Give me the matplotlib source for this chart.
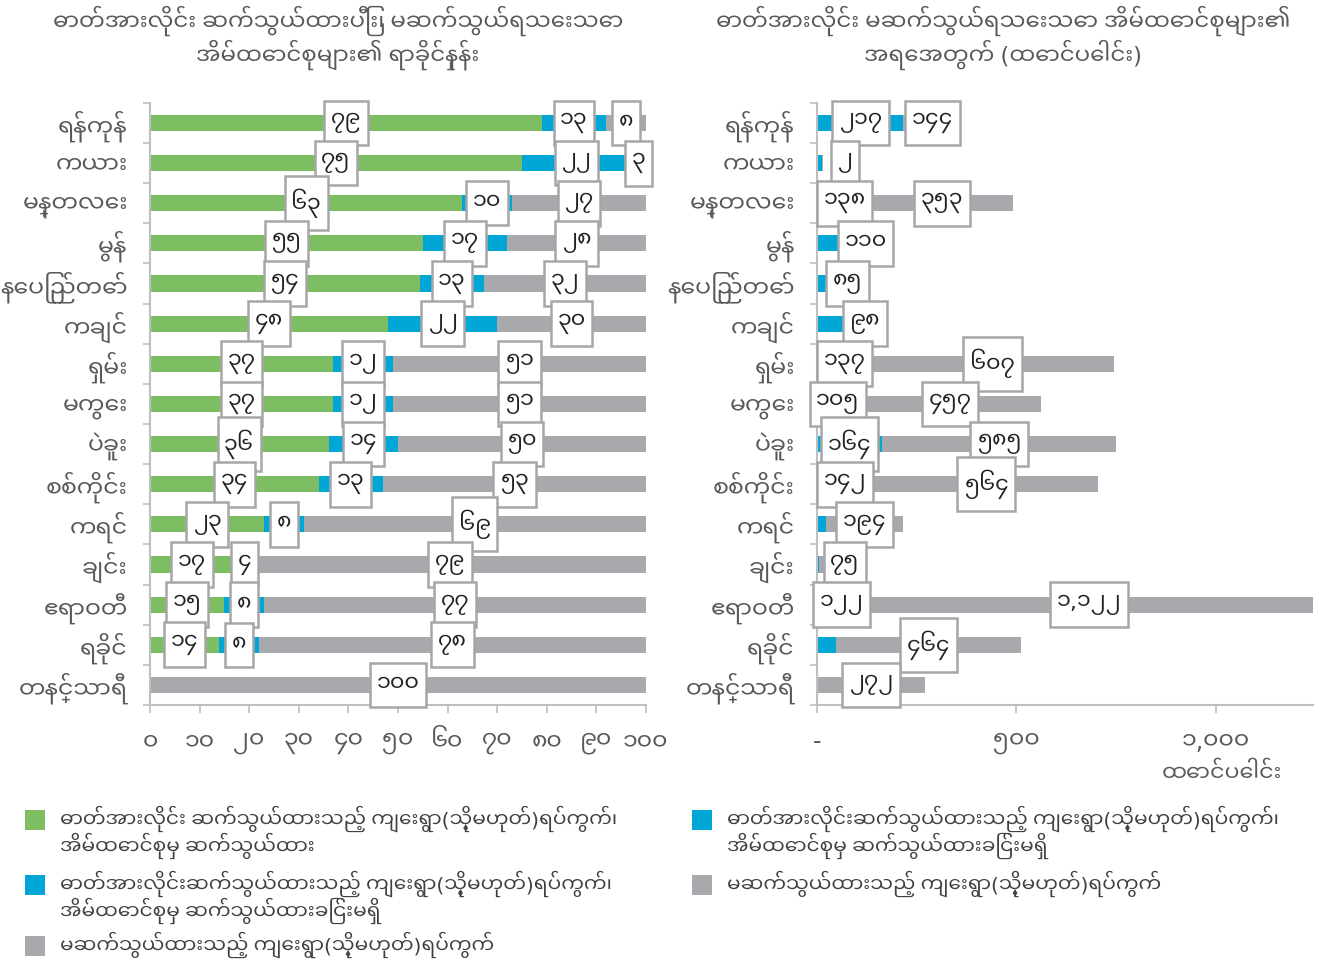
"""Electrification by state/region: percent split and household counts."""
import matplotlib
matplotlib.use("Agg")
import matplotlib.pyplot as plt
from matplotlib.patches import Rectangle
from matplotlib.path import Path

# data
regions = ['ရန်ကုန်', 'ကယား', 'မန္တလေး', 'မွန်', 'နေပြည်တော်', 'ကချင်', 'ရှမ်း',
           'မကွေး', 'ပဲခူး', 'စစ်ကိုင်း', 'ကရင်', 'ချင်း', 'ဧရာဝတီ', 'ရခိုင်', 'တနင်္သာရီ']

pct_connected = [79, 75, 63, 55, 54.4, 48, 37, 37, 36, 34, 23, 17, 15, 14, 0]
pct_village_only = [13, 22, 10, 17, 13, 22, 12, 12, 14, 13, 8, 4, 8, 8, 0]
pct_no_line = [8, 3, 27, 28, 32.6, 30, 51, 51, 50, 53, 69, 79, 77, 78, 100]

# thousands of households
hh_village_only = [217, 13, 138, 67, 35, 72, 137, 105, 164, 142, 22, 4, 122, 47, 0]
hh_no_line = [144, 2, 353, 110, 85, 98, 607, 457, 585, 564, 194, 75, 1122, 464, 272]
hh_village_only_labelled = [True, False, True, False, False, False, True, True, True, True,
                            False, False, True, False, False]

pct_ticks = [0, 10, 20, 30, 40, 50, 60, 70, 80, 90, 100]
hh_ticks = [0, 500, 1000]

GREEN = '#7dbe62'
BLUE = '#00a6d6'
GREY = '#a7a9ac'
TXT = '#595959'
AXC = '#bfbfbf'

plt.rcParams['font.family'] = ['Noto Sans Myanmar UI', 'DejaVu Sans']

MM_DIGITS = str.maketrans('0123456789', '၀၁၂၃၄၅၆၇၈၉')


def mm(n):
    return f'{int(n):,}'.translate(MM_DIGITS)


def tall_box(x0, y0, width, height, mutation_size):
    # label boxes are taller than the numbers inside them
    px, py = 0.3 * mutation_size, 0.55 * mutation_size
    return Path([(x0 - px, y0 - py), (x0 + width + px, y0 - py),
                 (x0 + width + px, y0 + height + py), (x0 - px, y0 + height + py),
                 (x0 - px, y0 - py)], closed=True)


def box_label(ax, x, y, n):
    ax.text(x, y, mm(n), ha='center', va='center', fontsize=16, color='#222222',
            zorder=5,
            bbox=dict(boxstyle=tall_box, fc='white', ec='#a6a6a6', lw=1.8))


def style_axis(ax):
    ax.set_ylim(len(regions) - 0.5, -0.5)
    ax.set_yticks(range(len(regions)))
    ax.set_yticklabels(regions, fontsize=17, color=TXT)
    ax.set_yticks([i + 0.5 for i in range(-1, len(regions))], minor=True)
    ax.tick_params(axis='y', which='major', length=0, pad=16)
    ax.tick_params(axis='y', which='minor', length=5, color=AXC, width=1.2)
    ax.tick_params(axis='x', length=6, color=AXC, width=1.2, labelsize=17,
                   labelcolor=TXT, pad=12)
    for s in ('top', 'right'):
        ax.spines[s].set_visible(False)
    for s in ('left', 'bottom'):
        ax.spines[s].set_color(AXC)
        ax.spines[s].set_linewidth(1.5)


fig = plt.figure(figsize=(13.19, 9.68), dpi=100)
ax1 = fig.add_axes([0.1137, 0.2717, 0.376, 0.622])
ax2 = fig.add_axes([0.6194, 0.2717, 0.376, 0.622])

y = list(range(len(regions)))
h = 0.4

# left: percentages
left2 = [a + b for a, b in zip(pct_connected, pct_village_only)]
ax1.barh(y, pct_connected, height=h, color=GREEN)
ax1.barh(y, pct_village_only, left=pct_connected, height=h, color=BLUE)
ax1.barh(y, pct_no_line, left=left2, height=h, color=GREY)
for i in y:
    for start, val in ((0, pct_connected[i]), (pct_connected[i], pct_village_only[i]),
                       (left2[i], pct_no_line[i])):
        if val:
            box_label(ax1, start + val / 2, i, val)
ax1.set_xlim(0, 100)
ax1.set_xticks(pct_ticks)
ax1.set_xticklabels([mm(t) for t in pct_ticks])
style_axis(ax1)

# right: household counts
ax2.barh(y, hh_village_only, height=h, color=BLUE)
ax2.barh(y, hh_no_line, left=hh_village_only, height=h, color=GREY)
for i in y:
    if hh_village_only_labelled[i]:
        box_label(ax2, hh_village_only[i] / 2, i, hh_village_only[i])
    if hh_no_line[i]:
        xc = max(hh_village_only[i] + hh_no_line[i] / 2, 70)
        box_label(ax2, xc, i, hh_no_line[i])
ax2.set_xlim(0, 1244)
ax2.set_xticks(hh_ticks)
ax2.set_xticklabels(['-'] + [mm(t) for t in hh_ticks[1:]])
style_axis(ax2)
fig.text(1222 / 1319, 1 - 775 / 968, 'ထောင်ပေါင်း', ha='center', va='center',
         fontsize=16, color=TXT)

# titles
fig.text(338 / 1319, 1 - 38 / 968,
         'ဓာတ်အားလိုင်း ဆက်သွယ်ထားပြီး၊ မဆက်သွယ်ရသေးသော\nအိမ်ထောင်စုများ၏ ရာခိုင်နှုန်း',
         ha='center', va='center', fontsize=16.5, color=TXT, linespacing=1.15)
fig.text(1003 / 1319, 1 - 38 / 968,
         'ဓာတ်အားလိုင်း မဆက်သွယ်ရသေးသော အိမ်ထောင်စုများ၏\nအရေအတွက် (ထောင်ပေါင်း)',
         ha='center', va='center', fontsize=16.5, color=TXT, linespacing=1.15)

# legend
legend_items = [
    (25, 820, GREEN, 'ဓာတ်အားလိုင်း ဆက်သွယ်ထားသည့် ကျေးရွာ(သို့မဟုတ်)ရပ်ကွက်၊\nအိမ်ထောင်စုမှ ဆက်သွယ်ထား'),
    (25, 885, BLUE, 'ဓာတ်အားလိုင်းဆက်သွယ်ထားသည့် ကျေးရွာ(သို့မဟုတ်)ရပ်ကွက်၊\nအိမ်ထောင်စုမှ ဆက်သွယ်ထားခြင်းမရှိ'),
    (25, 946, GREY, 'မဆက်သွယ်ထားသည့် ကျေးရွာ(သို့မဟုတ်)ရပ်ကွက်'),
    (692, 820, BLUE, 'ဓာတ်အားလိုင်းဆက်သွယ်ထားသည့် ကျေးရွာ(သို့မဟုတ်)ရပ်ကွက်၊\nအိမ်ထောင်စုမှ ဆက်သွယ်ထားခြင်းမရှိ'),
    (692, 885, GREY, 'မဆက်သွယ်ထားသည့် ကျေးရွာ(သို့မဟုတ်)ရပ်ကွက်'),
]
for px, py, col, txt in legend_items:
    fig.patches.append(Rectangle((px / 1319, 1 - (py + 10) / 968), 20 / 1319, 20 / 968,
                                 transform=fig.transFigure, facecolor=col))
    fig.text((px + 35) / 1319, 1 - (py - 15) / 968, txt, ha='left', va='top',
             fontsize=14.5, color='#404040', linespacing=1.05)

fig.savefig('out.png', dpi=100)
